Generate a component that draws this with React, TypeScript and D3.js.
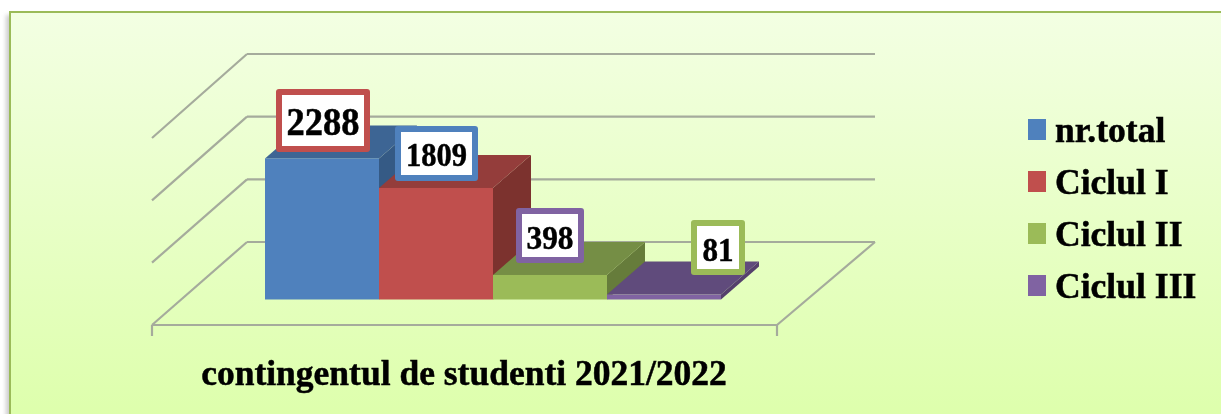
import React from "react";
import * as d3 from "d3";

const seriesNames = ["nr.total", "Ciclul I", "Ciclul II", "Ciclul III"];
const seriesValues = [2288, 1809, 398, 81];
const seriesColors = ["#4F81BD", "#C0504D", "#9BBB59", "#8064A2"];
const topColors = ["#3E6594", "#943C3A", "#758E44", "#604B7B"];
const sideColors = ["#365A85", "#7C302F", "#667B3A", "#54416C"];
const labelBorders = ["#C0504D", "#4F81BD", "#8064A2", "#9BBB59"];
const gridLevels = [0, 1000, 2000, 3000];
const categoryLabel = "contingentul de studenti 2021/2022";

const labelBoxes = [
  { x: 276, y: 89, w: 94, h: 63, size: 39, tw: 73, base: 135 },
  { x: 395, y: 126, w: 83, h: 55, size: 33, tw: 61, base: 166 },
  { x: 516, y: 208, w: 68, h: 55, size: 34, tw: 47, base: 249 },
  { x: 691, y: 220, w: 54, h: 55, size: 34, tw: 31, base: 261 },
];

const W = 1221;
const H = 414;
const baseY = 299.5;
const depthX = 38;
const depthY = 33;
const floorFront = { l: 152, r: 777, y: 325 };
const floorBack = { l: 247, r: 875, y: 242 };

export default function App() {
  const x = d3.scaleBand<string>().domain(seriesNames).range([265, 721]);
  const y = d3.scaleLinear().domain([0, 3000]).range([baseY, baseY - 185]);
  const gridY = d3.scaleLinear().domain([0, 3000]).range([floorBack.y, floorBack.y - 188]);
  const wallY = d3.scaleLinear().domain([0, 3000]).range([floorFront.y, floorFront.y - 187]);
  const line = d3.line();
  const gridColor = "#A5AB9C";

  return (
    <svg
      width={W}
      height={H}
      viewBox={`0 0 ${W} ${H}`}
      style={{ position: "absolute", left: 0, top: 0, display: "block" }}
      fontFamily="'Liberation Serif', serif"
    >
      <defs>
        <linearGradient id="bg" x1="0" y1="0" x2="0" y2="1">
          <stop offset="0" stopColor="#F3FFE3" />
          <stop offset="1" stopColor="#DCFFA8" />
        </linearGradient>
        <filter id="soft" x="-5%" y="-5%" width="110%" height="110%">
          <feGaussianBlur stdDeviation="0.7" />
        </filter>
        <filter id="shadow" x="-5%" y="-5%" width="110%" height="110%">
          <feGaussianBlur stdDeviation="2" />
        </filter>
      </defs>
      <rect width={W} height={H} fill="#fff" />
      <rect x={6} y={15} width={W + 30} height={H + 30} fill="#999" opacity={0.5} filter="url(#shadow)" />
      <rect x={10} y={12} width={W + 20} height={H + 20} fill="url(#bg)" stroke="#9BBB59" strokeWidth={2} />

      <g filter="url(#soft)">
        {gridLevels.map((g) => (
          <g key={g} fill="none" stroke={gridColor} strokeWidth={2.2}>
            <path d={line([[floorBack.l, gridY(g)], [floorBack.r, gridY(g)]])!} />
            <path d={line([[floorFront.l, wallY(g)], [floorBack.l, gridY(g)]])!} />
          </g>
        ))}
        <g fill="none" stroke={gridColor} strokeWidth={2.2}>
          <path d={line([[floorFront.l, floorFront.y], [floorFront.r, floorFront.y]])!} />
          <path d={line([[floorFront.r, floorFront.y], [floorBack.r, floorBack.y]])!} />
          <path d={line([[floorFront.l, floorFront.y], [floorFront.l, floorFront.y + 11]])!} />
          <path d={line([[floorFront.r, floorFront.y], [floorFront.r, floorFront.y + 11]])!} />
        </g>

        {seriesNames.map((name, i) => {
          const x0 = x(name)!;
          const x1 = x0 + x.bandwidth();
          const yTop = y(seriesValues[i]);
          return (
            <g key={name}>
              <path
                d={line([[x1, yTop], [x1 + depthX, yTop - depthY], [x1 + depthX, baseY - depthY], [x1, baseY]])! + "Z"}
                fill={sideColors[i]}
              />
              <path
                d={line([[x0, yTop], [x0 + depthX, yTop - depthY], [x1 + depthX, yTop - depthY], [x1, yTop]])! + "Z"}
                fill={topColors[i]}
              />
              <rect x={x0} y={yTop} width={x.bandwidth()} height={baseY - yTop} fill={seriesColors[i]} />
            </g>
          );
        })}

        {seriesValues.map((v, i) => {
          const b = labelBoxes[i];
          return (
            <g key={v}>
              <rect
                x={b.x + 3}
                y={b.y + 3}
                width={b.w - 6}
                height={b.h - 6}
                fill="#fff"
                stroke={labelBorders[i]}
                strokeWidth={6}
                strokeLinejoin="round"
              />
              <text
                x={b.x + b.w / 2 - b.tw / 2}
                y={b.base}
                textLength={b.tw}
                lengthAdjust="spacingAndGlyphs"
                fontSize={b.size}
                fontWeight="bold"
                fill="#000"
                stroke="#000"
                strokeWidth={0.5}
              >
                {v}
              </text>
            </g>
          );
        })}

        <text
          x={464}
          y={385}
          textAnchor="middle"
          fontSize={35.5}
          fontWeight="bold"
          fill="#000"
          stroke="#000"
          strokeWidth={0.5}
        >
          {categoryLabel}
        </text>

        {seriesNames.map((name, i) => {
          const ly = d3.scaleLinear().domain([0, 3]).range([119, 275])(i);
          return (
            <g key={name}>
              <rect x={1028} y={ly} width={18} height={21} fill={seriesColors[i]} />
              <text x={1055} y={ly + 23} fontSize={35.6} fontWeight="bold" fill="#000" stroke="#000" strokeWidth={0.5}>
                {name}
              </text>
            </g>
          );
        })}
      </g>
    </svg>
  );
}
